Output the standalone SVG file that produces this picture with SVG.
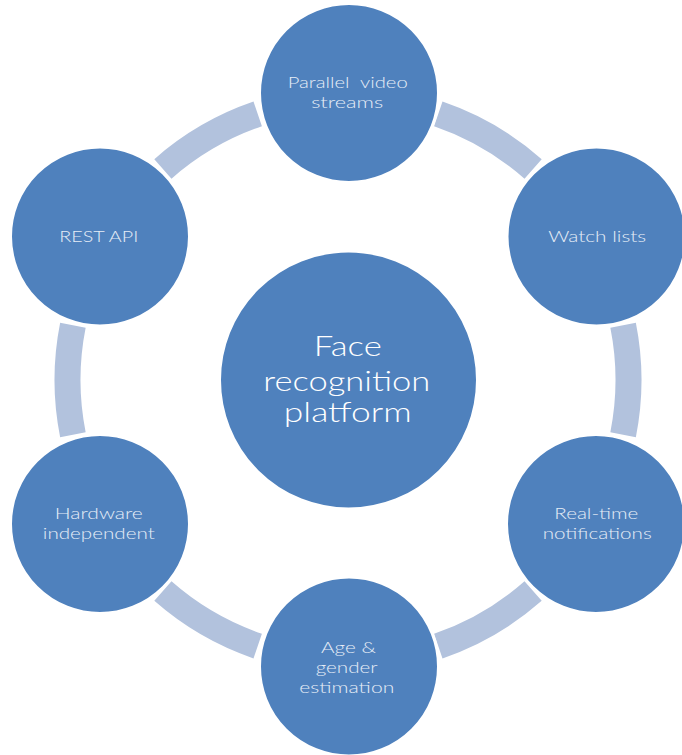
<svg xmlns="http://www.w3.org/2000/svg" width="682" height="755" viewBox="0 0 682 755">
<style>
.ring{fill:none;stroke:#b2c2dd;stroke-width:26;stroke-linecap:butt}
.node{fill:#4f81bd;stroke:#ffffff;stroke-width:3}
.lbl{font-family:Lato,"Open Sans","Liberation Sans",sans-serif;font-weight:300;font-size:16px;fill:#e6edf7;text-anchor:middle}
.big{font-family:Lato,"Open Sans","Liberation Sans",sans-serif;font-weight:300;font-size:27px;fill:#ffffff;text-anchor:middle}
</style>
<rect width="682" height="755" fill="#ffffff"/>
<g id="connectors">
<path class="ring" d="M438.3,113.9 A280.5,280.5 0 0 1 533.1,168.9"/>
<path class="ring" d="M623.1,325.3 A280.5,280.5 0 0 1 623.1,434.7"/>
<path class="ring" d="M533.1,591.1 A280.5,280.5 0 0 1 438.3,646.1"/>
<path class="ring" d="M257.7,646.1 A280.5,280.5 0 0 1 162.9,591.1"/>
<path class="ring" d="M72.9,434.7 A280.5,280.5 0 0 1 72.9,325.3"/>
<path class="ring" d="M162.9,168.9 A280.5,280.5 0 0 1 257.7,113.9"/>
</g>
<g id="center">
<circle class="node" cx="348.5" cy="380" r="129"/>
<text class="big" x="347.8" y="356" textLength="68" lengthAdjust="spacingAndGlyphs">Face</text>
<text class="big" x="346.8" y="390.7" textLength="167" lengthAdjust="spacingAndGlyphs">recognition</text>
<text class="big" x="347.8" y="421.7" textLength="128" lengthAdjust="spacingAndGlyphs">platform</text>
</g>
<g id="parallel">
<circle class="node" cx="349" cy="93" r="89.5"/>
<text class="lbl" x="347.7" y="88.3" textLength="120" lengthAdjust="spacingAndGlyphs" xml:space="preserve">Parallel  video</text>
<text class="lbl" x="347.2" y="108" textLength="72" lengthAdjust="spacingAndGlyphs">streams</text>
</g>
<g id="watch">
<circle class="node" cx="596.5" cy="236.5" r="89.5"/>
<text class="lbl" x="597.2" y="241.7" textLength="98" lengthAdjust="spacingAndGlyphs">Watch lists</text>
</g>
<g id="realtime">
<circle class="node" cx="596" cy="524" r="89.5"/>
<text class="lbl" x="596.3" y="519.3" textLength="84" lengthAdjust="spacingAndGlyphs">Real-time</text>
<text class="lbl" x="597.2" y="539.3" textLength="109" lengthAdjust="spacingAndGlyphs">notifications</text>
</g>
<g id="age">
<circle class="node" cx="349" cy="666.5" r="89.5"/>
<text class="lbl" x="348.5" y="652.7" textLength="55" lengthAdjust="spacingAndGlyphs">Age &amp;</text>
<text class="lbl" x="346.7" y="672.7" textLength="62" lengthAdjust="spacingAndGlyphs">gender</text>
<text class="lbl" x="346.8" y="692.7" textLength="95" lengthAdjust="spacingAndGlyphs">estimation</text>
</g>
<g id="hardware">
<circle class="node" cx="100" cy="524" r="89.5"/>
<text class="lbl" x="98.8" y="519" textLength="88" lengthAdjust="spacingAndGlyphs">Hardware</text>
<text class="lbl" x="98.8" y="539" textLength="112" lengthAdjust="spacingAndGlyphs">independent</text>
</g>
<g id="rest">
<circle class="node" cx="100" cy="236.5" r="89.5"/>
<text class="lbl" x="98.8" y="241.7" textLength="79" lengthAdjust="spacingAndGlyphs">REST API</text>
</g>
</svg>
